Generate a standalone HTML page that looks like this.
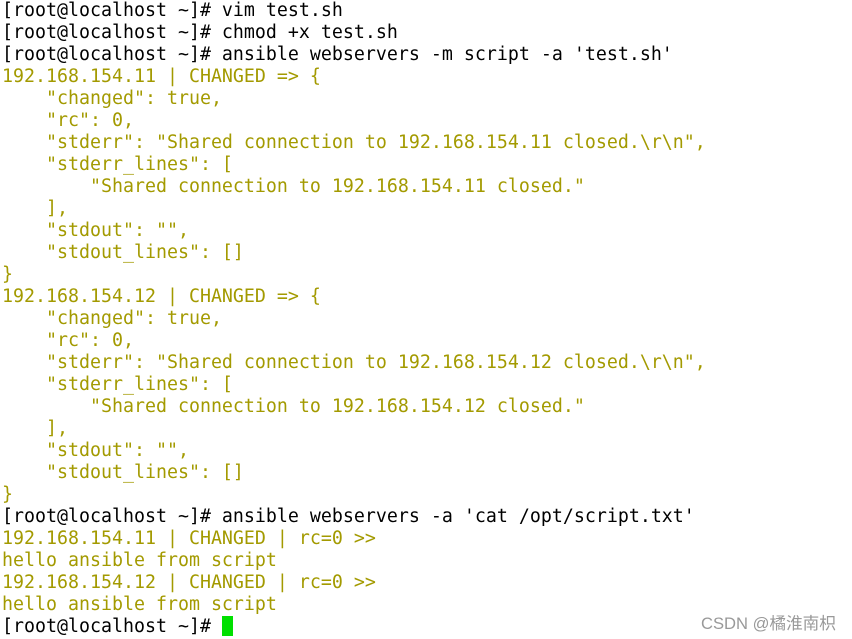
<!DOCTYPE html>
<html><head><meta charset="utf-8"><style>
body{margin:0;width:852px;height:639px;background:#fff;overflow:hidden;position:relative}
pre{margin:0;position:absolute;left:2px;top:0;font-family:"DejaVu Sans Mono","Liberation Mono",monospace;font-size:18.27px;line-height:22px;color:#000}
.y{color:#a39a00}
.c{display:inline-block;width:11px;height:20px;background:#00e000;vertical-align:-4px}
.w{position:absolute;left:701px;top:610px;font-family:"Liberation Sans","Noto Sans CJK SC",sans-serif;font-size:16.6px;color:#999}
</style></head><body>
<pre>[root@localhost ~]# vim test.sh
[root@localhost ~]# chmod +x test.sh
[root@localhost ~]# ansible webservers -m script -a 'test.sh'
<span class="y">192.168.154.11 | CHANGED =&gt; {
    "changed": true,
    "rc": 0,
    "stderr": "Shared connection to 192.168.154.11 closed.\r\n",
    "stderr_lines": [
        "Shared connection to 192.168.154.11 closed."
    ],
    "stdout": "",
    "stdout_lines": []
}
192.168.154.12 | CHANGED =&gt; {
    "changed": true,
    "rc": 0,
    "stderr": "Shared connection to 192.168.154.12 closed.\r\n",
    "stderr_lines": [
        "Shared connection to 192.168.154.12 closed."
    ],
    "stdout": "",
    "stdout_lines": []
}</span>
[root@localhost ~]# ansible webservers -a 'cat /opt/script.txt'
<span class="y">192.168.154.11 | CHANGED | rc=0 &gt;&gt;</span>
<span class="y">hello ansible from script</span>
<span class="y">192.168.154.12 | CHANGED | rc=0 &gt;&gt;</span>
<span class="y">hello ansible from script</span>
[root@localhost ~]# <span class="c"></span></pre>
<div class="w">CSDN @橘淮南枳</div>
</body></html>
